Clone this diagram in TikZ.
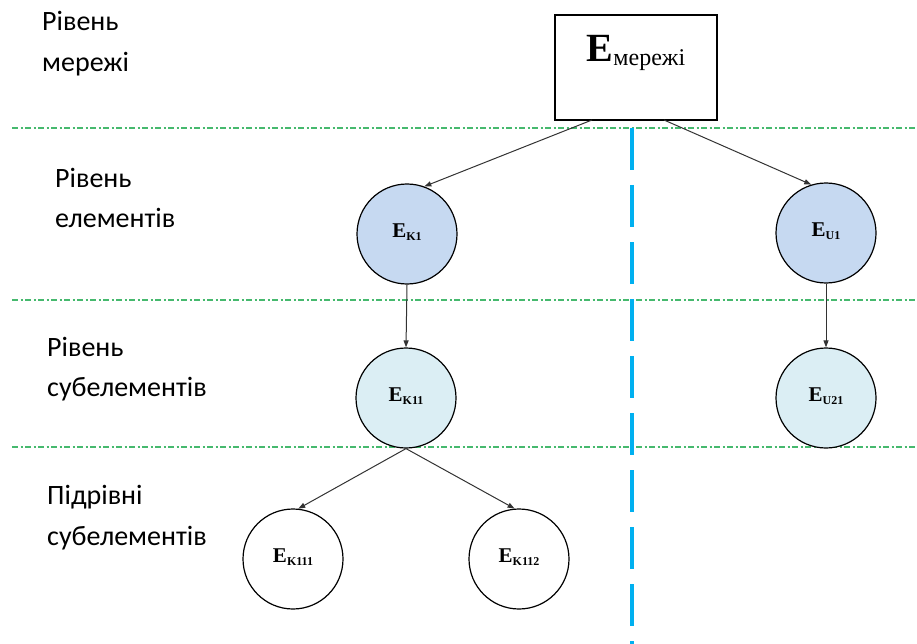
\documentclass[tikz,border=0pt]{standalone}
\usepackage{fontspec}
\setmainfont{Liberation Serif}
\newfontfamily\lblfont{Carlito}
\usetikzlibrary{arrows.meta}
\definecolor{lvlgreen}{RGB}{70,185,110}
\definecolor{splitblue}{RGB}{0,176,240}
\definecolor{elemfill}{RGB}{198,217,241}
\definecolor{subfill}{RGB}{219,238,244}
\newcommand{\elabel}[1]{\raisebox{7pt}{E\raisebox{-3pt}{\fontsize{12}{12}\selectfont #1}}}
\begin{document}
\begin{tikzpicture}[x=1pt,y=-1pt,
  lvl/.style={lvlgreen, line width=1.6pt, dash pattern=on 6pt off 2.5pt on 2pt off 2.5pt},
  split/.style={splitblue, line width=3.2pt, dash pattern=on 42pt off 15pt},
  elem/.style={circle, draw=black, line width=1.2pt, minimum size=100pt, inner sep=0pt,
    font=\fontsize{21}{21}\selectfont\bfseries},
  arr/.style={draw=black!80, line width=1pt, -{Triangle[length=7pt,width=5pt]}},
  lbl/.style={anchor=base west, inner sep=0pt, font=\lblfont\fontsize{28}{28}\selectfont}
]
\useasboundingbox (0,0) rectangle (917,644);

% level separators
\foreach \n/\y in {a/128, b/300, c/447} {
  \coordinate (lvl\n w) at (12,\y);
  \coordinate (lvl\n e) at (917,\y);
  \draw[lvl] (lvl\n w) -- (lvl\n e);
}

% vertical split
\coordinate (splittop) at (632,128);
\coordinate (splitbot) at (632,644);
\draw[split] (splittop) -- (splitbot);

% network box
\node[draw=black, line width=1.2pt, fill=white, minimum width=162pt, minimum height=105pt]
  (net) at (636,67.5) {};
\node[anchor=base, inner sep=0pt] (nettxt) at (636,62)
  {\fontsize{40}{40}\selectfont\textbf{E}\raisebox{-4pt}{\fontsize{24}{24}\selectfont мережі}};

% elements
\node[elem, fill=elemfill] (K1) at (407,234) {\elabel{K1}};
\node[elem, fill=elemfill] (U1) at (826,233) {\elabel{U1}};
\node[elem, fill=subfill] (K11) at (406,398) {\elabel{K11}};
\node[elem, fill=subfill] (U21) at (826,398) {\elabel{U21}};
\node[elem, fill=white] (K111) at (293,559) {\elabel{K111}};
\node[elem, fill=white] (K112) at (519,559) {\elabel{K112}};

% connectors
\coordinate (netl) at (592,120);
\coordinate (netr) at (664,120);
\draw[arr] (netl) -- (K1.70);
\draw[arr] (netr) -- (U1.107);
\draw[arr] (K1.south) -- (K11.north);
\draw[arr] (U1.south) -- (U21.north);
\draw[arr] (K11.south) -- (K111.84);
\draw[arr] (K11.south) -- (K112.95);

% level captions
\node[lbl] (l1a) at (42,31) {Рівень};
\node[lbl] (l1b) at (42,72) {мережі};
\node[lbl] (l2a) at (55,188) {Рівень};
\node[lbl] (l2b) at (55,228) {елементів};
\node[lbl] (l3a) at (47,356) {Рівень};
\node[lbl] (l3b) at (47,396) {субелементів};
\node[lbl] (l4a) at (47,504) {Підрівні};
\node[lbl] (l4b) at (47,545) {субелементів};
\end{tikzpicture}
\end{document}
